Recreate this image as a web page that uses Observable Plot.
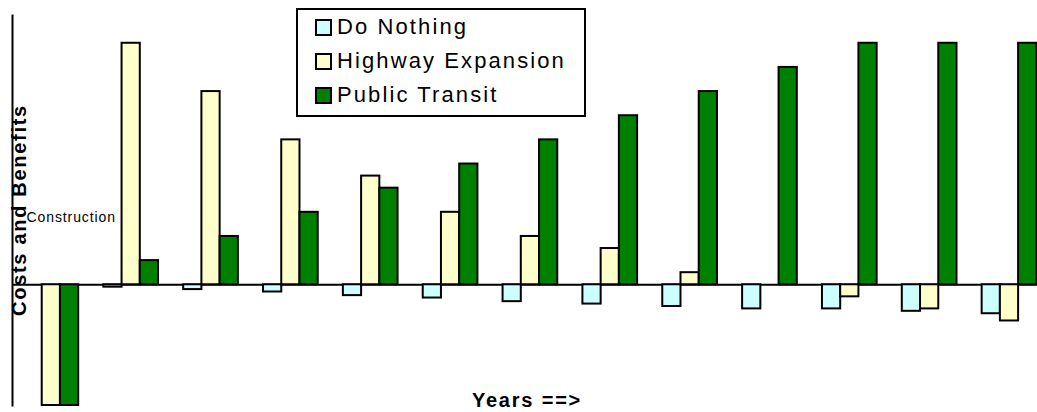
<!DOCTYPE html>
<html>
<head>
<meta charset="utf-8">
<script src="https://cdn.jsdelivr.net/npm/d3@7"></script>
<script src="https://cdn.jsdelivr.net/npm/@observablehq/plot@0.6"></script>
<style>
  html, body { margin: 0; padding: 0; background: #fff; overflow: hidden; }
  #wrap { position: relative; width: 1037px; height: 412px; font-family: "Liberation Sans", Arial, sans-serif; }
  #wrap svg { position: absolute; left: 0; top: 0; }
  #wrap svg text { letter-spacing: 0.9px; }
  .legend { position: absolute; left: 296px; top: 8px; width: 286px; height: 105px; border: 2px solid #000; background: #fff; }
  .legend .row { position: absolute; left: 17px; height: 24px; display: flex; align-items: center; font-size: 22px; letter-spacing: 2.1px; color: #000; white-space: nowrap; }
  .legend .sw { width: 13px; height: 13px; border: 2px solid #000; margin-right: 5px; flex: none; }
  .ylab { position: absolute; left: 19px; top: 210px; transform: translate(-50%, -50%) rotate(-90deg); font-weight: bold; font-size: 20px; letter-spacing: 1.7px; white-space: nowrap; color: #000; }
  .xlab { position: absolute; left: 527px; top: 400px; transform: translate(-50%, -50%); font-weight: bold; font-size: 20px; letter-spacing: 1.8px; white-space: nowrap; color: #000; }
</style>
</head>
<body>
<div id="wrap"></div>
<script>
// ---- data ----
const years = [0, 1, 2, 3, 4, 5, 6, 7, 8, 9, 10, 11, 12];
const seriesNames = ["Do Nothing", "Highway Expansion", "Public Transit"];
const seriesColors = ["#CCFFFF", "#FFFFCC", "#008000"];
const doNothing = [0, -0.1, -0.2, -0.3, -0.45, -0.55, -0.7, -0.8, -0.9, -1.0, -1.0, -1.1, -1.2];
const highwayExpansion = [-5, 10, 8, 6, 4.5, 3, 2, 1.5, 0.5, 0, -0.5, -1.0, -1.5];
const publicTransit = [-5, 1, 2, 3, 4, 5, 6, 7, 8, 9, 10, 10, 10];
const annotations = [{label: "Construction", value: 2.8}];
const xTitle = "Years ==>";
const yTitle = "Costs and Benefits";

// ---- build table ----
const seriesValues = [doNothing, highwayExpansion, publicTransit];
const table = [];
seriesNames.forEach((s, i) => years.forEach((y, j) => table.push({year: y, series: s, value: seriesValues[i][j]})));

const W = 1037, H = 412;
const barW = 18.23;

const marks = [
  Plot.ruleY([0], {stroke: "#000", strokeWidth: 2})
];
seriesNames.forEach((s, i) => {
  marks.push(Plot.barY(table.filter(d => d.series === s), {
    x: "year", y: "value",
    fill: seriesColors[i], stroke: "#000", strokeWidth: 2,
    insetLeft: i * barW, insetRight: (2 - i) * barW
  }));
});
marks.push(Plot.frame({anchor: "left", stroke: "#000", strokeWidth: 2}));
marks.push(Plot.text(annotations, {
  frameAnchor: "left", y: "value", text: "label", textAnchor: "start", dx: 14,
  fontSize: 14, fill: "#000"
}));

const chart = Plot.plot({
  width: W, height: H,
  marginLeft: 12, marginRight: 0, marginTop: 15, marginBottom: 7,
  style: {fontFamily: "Liberation Sans, Arial, sans-serif", background: "transparent", overflow: "visible"},
  x: {type: "band", domain: years, paddingInner: 0.315, paddingOuter: 0.076, align: 0.946, round: false, axis: null},
  y: {domain: [-5, 11.15], axis: null},
  marks
});

const wrap = document.getElementById("wrap");
wrap.appendChild(chart);

// legend
const leg = document.createElement("div");
leg.className = "legend";
seriesNames.forEach((s, i) => {
  const r = document.createElement("div");
  r.className = "row";
  r.style.top = (5 + i * 34) + "px";
  const sw = document.createElement("span");
  sw.className = "sw";
  sw.style.background = seriesColors[i];
  r.appendChild(sw);
  r.appendChild(document.createTextNode(s));
  leg.appendChild(r);
});
wrap.appendChild(leg);

const yl = document.createElement("div");
yl.className = "ylab"; yl.textContent = yTitle;
wrap.appendChild(yl);
const xl = document.createElement("div");
xl.className = "xlab"; xl.textContent = xTitle;
wrap.appendChild(xl);
</script>
</body>
</html>
